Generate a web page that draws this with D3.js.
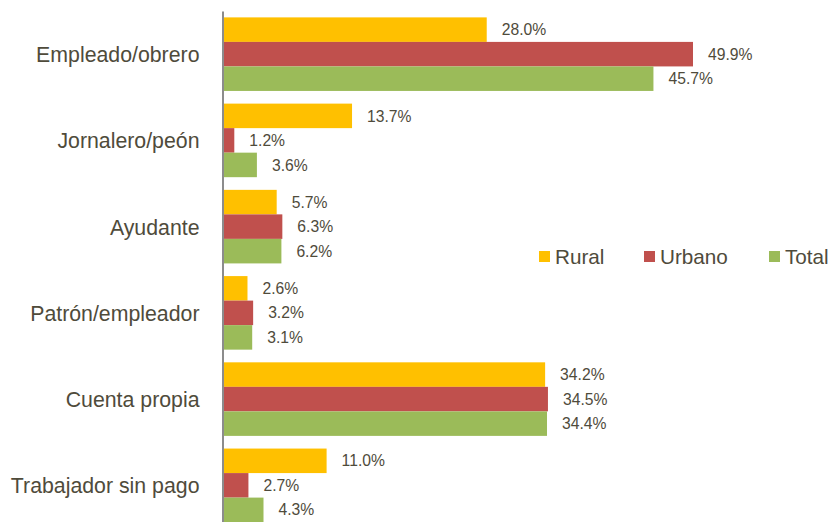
<!DOCTYPE html>
<html>
<head>
<meta charset="utf-8">
<script src="https://cdn.jsdelivr.net/npm/d3@7"></script>
<style>
  body { margin: 0; background: #fff; }
  #chart { width: 831px; height: 522px; }
  text { font-family: "Liberation Sans", Arial, sans-serif; fill: #4f4b3b; }
</style>
</head>
<body>
<div id="chart"></div>
<script>
const categories = ["Empleado/obrero", "Jornalero/peón", "Ayudante", "Patrón/empleador", "Cuenta propia", "Trabajador sin pago"];
const seriesNames = ["Rural", "Urbano", "Total"];
const seriesColors = ["#ffc000", "#c0504d", "#9bbb59"];
const rural = [28.0, 13.7, 5.7, 2.6, 34.2, 11.0];
const urbano = [49.9, 1.2, 6.3, 3.2, 34.5, 2.7];
const total = [45.7, 3.6, 6.2, 3.1, 34.4, 4.3];

const seriesValues = [rural, urbano, total];

const width = 831, height = 522;
const x0 = 223;

const svg = d3.select("#chart").append("svg")
  .attr("width", width)
  .attr("height", height);

const y = d3.scaleBand()
  .domain(categories)
  .range([11, 528.5])
  .paddingInner(0.147)
  .paddingOuter(0.074);

const ySub = d3.scaleBand()
  .domain(seriesNames)
  .range([0, y.bandwidth()]);

const x = d3.scaleLinear()
  .domain([0, 49.9])
  .range([x0, 693]);

// bars
const groups = svg.selectAll(".group")
  .data(categories)
  .enter()
  .append("g")
  .attr("class", "group")
  .attr("transform", function (d) { return "translate(0," + y(d) + ")"; });

groups.selectAll("rect")
  .data(function (d, i) {
    return seriesNames.map(function (s, j) {
      return { series: s, value: seriesValues[j][i], color: seriesColors[j] };
    });
  })
  .enter()
  .append("rect")
  .attr("x", x(0))
  .attr("y", function (d) { return ySub(d.series); })
  .attr("width", function (d) { return x(d.value) - x(0); })
  .attr("height", ySub.bandwidth())
  .attr("fill", function (d) { return d.color; });

groups.selectAll(".val")
  .data(function (d, i) {
    return seriesNames.map(function (s, j) {
      return { series: s, value: seriesValues[j][i] };
    });
  })
  .enter()
  .append("text")
  .attr("class", "val")
  .attr("x", function (d) { return x(d.value) + 15; })
  .attr("y", function (d) { return ySub(d.series) + ySub.bandwidth() / 2 + 1.5; })
  .attr("dominant-baseline", "middle")
  .attr("font-size", "15.7px")
  .text(function (d) { return d.value.toFixed(1) + "%"; });

// axis
const yAxis = d3.axisLeft(y).tickSize(0).tickPadding(23);
const axisG = svg.append("g")
  .attr("transform", "translate(" + (x0 - 0.5) + ",0)")
  .call(yAxis);
axisG.select(".domain").attr("stroke", "#8c8c8c").attr("stroke-width", 2);
axisG.selectAll("text")
  .attr("font-size", "21.3px")
  .attr("fill", "#4f4b3b")
  .attr("dy", "0.37em");

// legend
const legendX = [539, 644, 769];
const legend = svg.append("g").attr("class", "legend");
seriesNames.forEach(function (s, i) {
  legend.append("rect")
    .attr("x", legendX[i])
    .attr("y", 251)
    .attr("width", 11)
    .attr("height", 11)
    .attr("fill", seriesColors[i]);
  legend.append("text")
    .attr("x", legendX[i] + 16)
    .attr("y", 263.5)
    .attr("font-size", "20.7px")
    .text(s);
});
</script>
</body>
</html>
